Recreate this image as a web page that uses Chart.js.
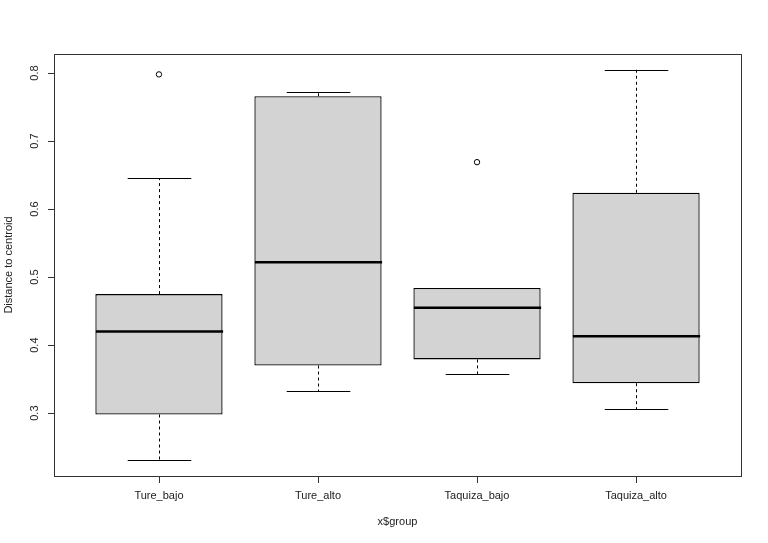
<!DOCTYPE html>
<html>
<head>
<meta charset="utf-8">
<script src="https://cdn.jsdelivr.net/npm/chart.js@4"></script>
<style>
  html, body { margin: 0; padding: 0; background: #fff; }
  #wrap { width: 768px; height: 543px; }
</style>
</head>
<body>
<div id="wrap"><canvas id="chart" width="768" height="543"></canvas></div>
<script>
// values
const groups = ['Ture_bajo', 'Ture_alto', 'Taquiza_bajo', 'Taquiza_alto'];
const whiskerLow = [0.231, 0.332, 0.357, 0.306];
const q1 = [0.298, 0.370, 0.379, 0.344];
const median = [0.420, 0.522, 0.455, 0.413];
const q3 = [0.475, 0.766, 0.484, 0.624];
const whiskerHigh = [0.645, 0.772, 0.484, 0.805];
const outliers = [[0.798], [], [0.669], []];
const yTicks = [0.3, 0.4, 0.5, 0.6, 0.7, 0.8];

const FONT = '"Liberation Sans", Arial, sans-serif';

const boxPlot = {
  id: 'boxPlot',
  afterDatasetsDraw(chart) {
    const ctx = chart.ctx;
    const x = chart.scales.x, y = chart.scales.y;
    const boxHalf = x.getPixelForValue(1.4) - x.getPixelForValue(1);
    const half = boxHalf / 2;
    ctx.save();
    groups.forEach((g, i) => {
      const cx = Math.round(x.getPixelForValue(i + 1)) + 0.5;
      // dashed whiskers
      ctx.strokeStyle = '#000';
      ctx.lineWidth = 1;
      ctx.setLineDash([3, 3]);
      ctx.beginPath();
      ctx.moveTo(cx, y.getPixelForValue(q1[i]));
      ctx.lineTo(cx, y.getPixelForValue(whiskerLow[i]));
      ctx.moveTo(cx, y.getPixelForValue(q3[i]));
      ctx.lineTo(cx, y.getPixelForValue(whiskerHigh[i]));
      ctx.stroke();
      ctx.setLineDash([]);
      // caps
      ctx.beginPath();
      [whiskerLow[i], whiskerHigh[i]].forEach(v => {
        const py = Math.round(y.getPixelForValue(v)) + 0.5;
        ctx.moveTo(cx - half, py);
        ctx.lineTo(cx + half, py);
      });
      ctx.stroke();
      // median
      ctx.lineWidth = 2.5;
      ctx.beginPath();
      const my = y.getPixelForValue(median[i]);
      ctx.moveTo(cx - boxHalf, my);
      ctx.lineTo(cx + boxHalf, my);
      ctx.stroke();
    });

    const a = chart.chartArea;
    // frame
    ctx.lineWidth = 1;
    ctx.strokeStyle = '#333';
    ctx.strokeRect(a.left + 0.5, a.top + 0.5, a.right - a.left, a.bottom - a.top);

    // y axis ticks + labels (rotated like R)
    ctx.fillStyle = '#222';
    ctx.font = '11px ' + FONT;
    ctx.beginPath();
    yTicks.forEach(t => {
      const py = Math.round(y.getPixelForValue(t)) + 0.5;
      ctx.moveTo(a.left - 6, py);
      ctx.lineTo(a.left, py);
    });
    ctx.stroke();
    yTicks.forEach(t => {
      const py = y.getPixelForValue(t);
      ctx.save();
      ctx.translate(35, py);
      ctx.rotate(-Math.PI / 2);
      ctx.textAlign = 'center';
      ctx.textBaseline = 'middle';
      ctx.fillText(t.toFixed(1), 0, 0);
      ctx.restore();
    });

    // x axis ticks + labels
    ctx.beginPath();
    groups.forEach((g, i) => {
      const px = Math.round(x.getPixelForValue(i + 1)) + 0.5;
      ctx.moveTo(px, a.bottom);
      ctx.lineTo(px, a.bottom + 7);
    });
    ctx.stroke();
    ctx.textAlign = 'center';
    ctx.textBaseline = 'middle';
    groups.forEach((g, i) => {
      ctx.fillText(g, x.getPixelForValue(i + 1), 496);
    });

    // axis titles
    ctx.fillText('x$group', (a.left + a.right) / 2, 522);
    ctx.save();
    ctx.translate(9, (a.top + a.bottom) / 2);
    ctx.rotate(-Math.PI / 2);
    ctx.fillText('Distance to centroid', 0, 0);
    ctx.restore();
    ctx.restore();
  }
};

const boxData = groups.map((g, i) => ({ x: i + 1, y: [q1[i], q3[i]] }));
const outlierData = [];
outliers.forEach((list, i) => list.forEach(v => outlierData.push({ x: i + 1, y: v })));

new Chart(document.getElementById('chart').getContext('2d'), {
  type: 'bar',
  data: {
    datasets: [
      {
        label: 'boxes',
        data: boxData,
        backgroundColor: '#d3d3d3',
        borderColor: '#000',
        borderWidth: 1.3,
        borderSkipped: false,
        categoryPercentage: 0.8,
        barPercentage: 1.0
      },
      {
        type: 'scatter',
        label: 'outliers',
        data: outlierData,
        pointRadius: 2.7,
        pointBackgroundColor: 'rgba(0,0,0,0)',
        pointBorderColor: '#000',
        pointBorderWidth: 1
      }
    ]
  },
  options: {
    responsive: false,
    animation: false,
    devicePixelRatio: 1,
    layout: { padding: { left: 54, top: 54, right: 27, bottom: 67 } },
    scales: {
      x: {
        type: 'linear', min: 0.34, max: 4.66, offset: false, display: false,
        afterBuildTicks: s => { s.ticks = groups.map((g, i) => ({ value: i + 1 })); }
      },
      y: { type: 'linear', min: 0.2076, max: 0.828, display: false }
    },
    plugins: {
      legend: { display: false },
      tooltip: { enabled: false }
    }
  },
  plugins: [boxPlot]
});
</script>
</body>
</html>
